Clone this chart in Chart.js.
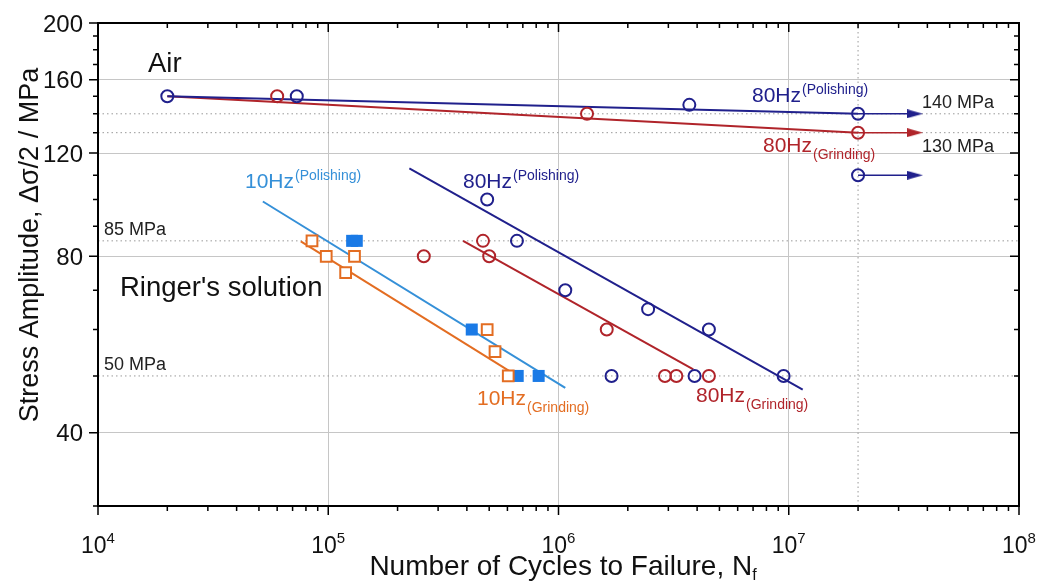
<!DOCTYPE html>
<html><head><meta charset="utf-8">
<script src="https://cdn.jsdelivr.net/npm/chart.js@4.4.1/dist/chart.umd.min.js"></script>
<style>html,body{margin:0;padding:0;background:#fff}#wrap{width:1053px;height:581px;position:relative}</style>
</head><body><div id="wrap"><canvas id="c"></canvas></div>
<script>
// ---------- data ----------
// Air, 80 Hz, polished (navy circles); last two points are run-outs at 2e7
const airPolishingN = [2.0e4, 7.3e4, 3.7e6, 2.0e7, 2.0e7];
const airPolishingS = [150, 150, 145, 140, 110];
// Air, 80 Hz, ground (red circles)
const airGrindingN = [6.0e4, 1.33e6, 2.0e7];
const airGrindingS = [150, 140, 130];
// Air fit lines
const airPolishingFitN = [2.0e4, 2.0e7];
const airPolishingFitS = [150, 140];
const airGrindingFitN = [2.0e4, 2.0e7];
const airGrindingFitS = [150, 130];
// run-out arrows
const runoutN = [2.0e7, 3.53e7];
const runoutPolishingS = [140, 110];
const runoutGrindingS = [130];
// Ringer's solution, 80 Hz polished (navy circles)
const ringer80PolishingN = [4.9e5, 6.6e5, 1.07e6, 2.45e6, 4.5e6, 1.7e6, 3.9e6, 9.5e6];
const ringer80PolishingS = [100, 85, 70, 65, 60, 50, 50, 50];
const ringer80PolishingFitN = [2.25e5, 1.15e7];
const ringer80PolishingFitS = [113, 47.4];
// Ringer's solution, 80 Hz ground (red circles)
const ringer80GrindingN = [2.6e5, 4.7e5, 5.0e5, 1.62e6, 2.9e6, 3.25e6, 4.5e6];
const ringer80GrindingS = [80, 85, 80, 60, 50, 50, 50];
const ringer80GrindingFitN = [3.85e5, 3.85e6];
const ringer80GrindingFitS = [85, 51.3];
// Ringer's solution, 10 Hz polished (filled blue squares)
const ringer10PolishingN = [1.27e5, 1.33e5, 4.2e5, 6.65e5, 8.2e5];
const ringer10PolishingS = [85, 85, 60, 50, 50];
const ringer10PolishingFitN = [5.2e4, 1.07e6];
const ringer10PolishingFitS = [99.2, 47.7];
// Ringer's solution, 10 Hz ground (open orange squares)
const ringer10GrindingN = [8.5e4, 9.8e4, 1.3e5, 1.19e5, 4.9e5, 5.3e5, 6.05e5];
const ringer10GrindingS = [85, 80, 80, 75, 60, 55, 50];
const ringer10GrindingFitN = [7.6e4, 6.15e5];
const ringer10GrindingFitS = [84.8, 50.9];
// reference levels
const refLevels = [140, 130, 85, 50];
const refLevelLabels = ['140 MPa', '130 MPa', '85 MPa', '50 MPa'];
const runoutLimit = 2.0e7;
// axes
const xMin = 1e4, xMax = 1e8, yMin = 30, yMax = 200;
const xTickValues = [1e4, 1e5, 1e6, 1e7, 1e8];
const xTickExponents = ['4', '5', '6', '7', '8'];
const yTickValues = [40, 80, 120, 160, 200];
const yTickLabels = ['40', '80', '120', '160', '200'];

// ---------- styles ----------
const NAVY = '#20208c', RED = '#b0242a', LBLUE = '#3590d8', FBLUE = '#1a7ae6', ORANGE = '#e36d22';
const GRID = '#c6c6c6', DOT = '#999999';
const FONT = '"Liberation Sans", Arial, sans-serif';

function pts(xs, ys) { return xs.map((x, i) => ({x: x, y: ys[i]})); }
function arrowHead(color) {
  const c = document.createElement('canvas'); c.width = 16; c.height = 9;
  const g = c.getContext('2d'); g.fillStyle = color;
  g.beginPath(); g.moveTo(0, 0); g.lineTo(16, 4.5); g.lineTo(0, 9); g.closePath(); g.fill();
  return c;
}
const headNavy = arrowHead(NAVY), headRed = arrowHead(RED);

const datasets = [];
function circles(xs, ys, color) {
  datasets.push({data: pts(xs, ys), showLine: false, pointStyle: 'circle', pointRadius: 6,
    pointBorderWidth: 2, borderColor: color, pointBorderColor: color, pointBackgroundColor: 'rgba(0,0,0,0)', order: 1});
}
function squares(xs, ys, color, filled) {
  datasets.push({data: pts(xs, ys), showLine: false, pointStyle: 'rect', pointRadius: filled ? 8.5 : 7.6,
    pointBorderWidth: filled ? 0 : 2, borderColor: color, pointBorderColor: color,
    pointBackgroundColor: filled ? color : '#ffffff', order: 1});
}
function fit(xs, ys, color, w) {
  datasets.push({data: pts(xs, ys), showLine: true, borderColor: color, borderWidth: w || 2,
    pointRadius: 0, fill: false, order: 2});
}
function arrow(y, color, head) {
  datasets.push({data: pts(runoutN, runoutN.map(() => y)), showLine: true, borderColor: color, borderWidth: 1.6,
    pointRadius: [0, 5], pointStyle: head, pointBorderWidth: 0, pointBackgroundColor: color, order: 2});
}
function refLine(xs, ys) {
  datasets.push({data: pts(xs, ys), showLine: true, borderColor: DOT, borderWidth: 1, borderDash: [1.5, 3],
    pointRadius: 0, order: 3});
}

circles(airPolishingN, airPolishingS, NAVY);
circles(airGrindingN, airGrindingS, RED);
circles(ringer80PolishingN, ringer80PolishingS, NAVY);
circles(ringer80GrindingN, ringer80GrindingS, RED);
squares(ringer10GrindingN, ringer10GrindingS, ORANGE, false);
squares(ringer10PolishingN, ringer10PolishingS, FBLUE, true);
fit(airPolishingFitN, airPolishingFitS, NAVY);
fit(airGrindingFitN, airGrindingFitS, RED);
fit(ringer80PolishingFitN, ringer80PolishingFitS, NAVY);
fit(ringer80GrindingFitN, ringer80GrindingFitS, RED);
fit(ringer10PolishingFitN, ringer10PolishingFitS, LBLUE);
fit(ringer10GrindingFitN, ringer10GrindingFitS, ORANGE);
runoutPolishingS.forEach(y => arrow(y, NAVY, headNavy));
runoutGrindingS.forEach(y => arrow(y, RED, headRed));
refLevels.forEach(v => refLine([xMin, xMax], [v, v]));
refLine([runoutLimit, runoutLimit], [yMin, yMax]);

// ---------- drawing helpers ----------
function text(g, s, x, y, size, color, align, sx) {
  g.save(); g.font = size + 'px ' + FONT; g.fillStyle = color; g.textBaseline = 'alphabetic';
  g.textAlign = align || 'left'; g.translate(x, y); g.scale(sx || 1, 1); g.fillText(s, 0, 0); g.restore();
}
function width(g, s, size) { g.save(); g.font = size + 'px ' + FONT; const w = g.measureText(s).width; g.restore(); return w; }
function scripted(g, main, scr, x, y, size, ssize, dy, color) {
  text(g, main, x, y, size, color);
  text(g, scr, x + width(g, main, size) + 1, y + dy, ssize, color);
}

const decor = {
  id: 'decor',
  afterDraw(chart) {
    const g = chart.ctx, a = chart.chartArea, xs = chart.scales.x, ys = chart.scales.y;
    g.save();
    // ticks
    g.strokeStyle = '#000'; g.lineWidth = 1.5;
    g.beginPath();
    for (let e = 4; e <= 8; e++) {
      for (let k = 1; k <= 9; k++) {
        const v = k * Math.pow(10, e); if (v > xMax) break;
        const px = xs.getPixelForValue(v), L = k === 1 ? 9 : 5;
        g.moveTo(px, a.bottom); g.lineTo(px, a.bottom + L);
        g.moveTo(px, a.top); g.lineTo(px, a.top + L);
      }
    }
    for (let v = 30; v <= 200; v += 10) {
      const py = ys.getPixelForValue(v), L = (v % 40 === 0) ? 9 : 5;
      g.moveTo(a.left - L, py); g.lineTo(a.left, py);
      g.moveTo(a.right - L, py); g.lineTo(a.right, py);
    }
    g.stroke();
    // frame
    g.lineWidth = 2; g.strokeRect(a.left, a.top, a.right - a.left, a.bottom - a.top);
    // y tick labels
    yTickValues.forEach((v, i) => text(g, yTickLabels[i], a.left - 15, ys.getPixelForValue(v) + 8.5, 24, '#111', 'right'));
    // x tick labels 10^n
    xTickValues.forEach((v, i) => {
      const px = xs.getPixelForValue(v);
      const w1 = width(g, '10', 23), w2 = width(g, xTickExponents[i], 15);
      const x0 = px - (w1 + w2) / 2;
      text(g, '10', x0, 553, 23, '#111');
      text(g, xTickExponents[i], x0 + w1, 543, 15, '#111');
    });
    // x title
    const t1 = 'Number of Cycles to Failure, N';
    const tw = width(g, t1, 28) + width(g, 'f', 16);
    const tx = 563 - tw / 2;
    text(g, t1, tx, 575, 28, '#111');
    text(g, 'f', tx + width(g, t1, 28), 580, 16, '#111');
    // y title
    g.save(); g.translate(38, 245); g.rotate(-Math.PI / 2);
    text(g, 'Stress Amplitude, \u0394\u03c3/2 / MPa', 0, 0, 27, '#111', 'center');
    g.restore();
    // annotations
    text(g, 'Air', 148, 72, 27.5, '#111');
    text(g, "Ringer's solution", 120, 296, 27.5, '#111');
    const lvlPos = [[922, 108], [922, 152], [104, 235], [104, 370]];
    refLevelLabels.forEach((s, i) => text(g, s, lvlPos[i][0], lvlPos[i][1], 18, '#222'));
    scripted(g, '10Hz', '(Polishing)', 245, 188, 21, 14, -8, LBLUE);
    scripted(g, '80Hz', '(Polishing)', 463, 188, 21, 14, -8, NAVY);
    scripted(g, '80Hz', '(Polishing)', 752, 102, 21, 14, -8, NAVY);
    scripted(g, '80Hz', '(Grinding)', 763, 152, 21, 14, 7, RED);
    scripted(g, '10Hz', '(Grinding)', 477, 405, 21, 14, 7, ORANGE);
    scripted(g, '80Hz', '(Grinding)', 696, 402, 21, 14, 7, RED);
    g.restore();
  }
};

new Chart(document.getElementById('c'), {
  type: 'scatter',
  data: {datasets: datasets},
  options: {
    responsive: true, maintainAspectRatio: false, animation: false,
    layout: {padding: {top: 23, right: 34, bottom: 0, left: 0}},
    plugins: {legend: {display: false}, tooltip: {enabled: false}},
    scales: {
      x: {
        type: 'logarithmic', min: xMin, max: xMax, position: 'bottom',
        afterBuildTicks: s => { s.ticks = xTickValues.map(v => ({value: v})); },
        afterFit: s => { s.height = 75; },
        ticks: {display: false},
        border: {display: false},
        grid: {drawTicks: false, lineWidth: 1,
          color: c => (c.tick && c.tick.value > xMin && c.tick.value < xMax) ? GRID : 'rgba(0,0,0,0)'}
      },
      y: {
        type: 'logarithmic', min: yMin, max: yMax, position: 'left',
        afterBuildTicks: s => { s.ticks = yTickValues.map(v => ({value: v})); },
        afterFit: s => { s.width = 98; },
        ticks: {display: false},
        border: {display: false},
        grid: {drawTicks: false, lineWidth: 1,
          color: c => (c.tick && c.tick.value < yMax) ? GRID : 'rgba(0,0,0,0)'}
      }
    }
  },
  plugins: [decor]
});
</script>
</body></html>
